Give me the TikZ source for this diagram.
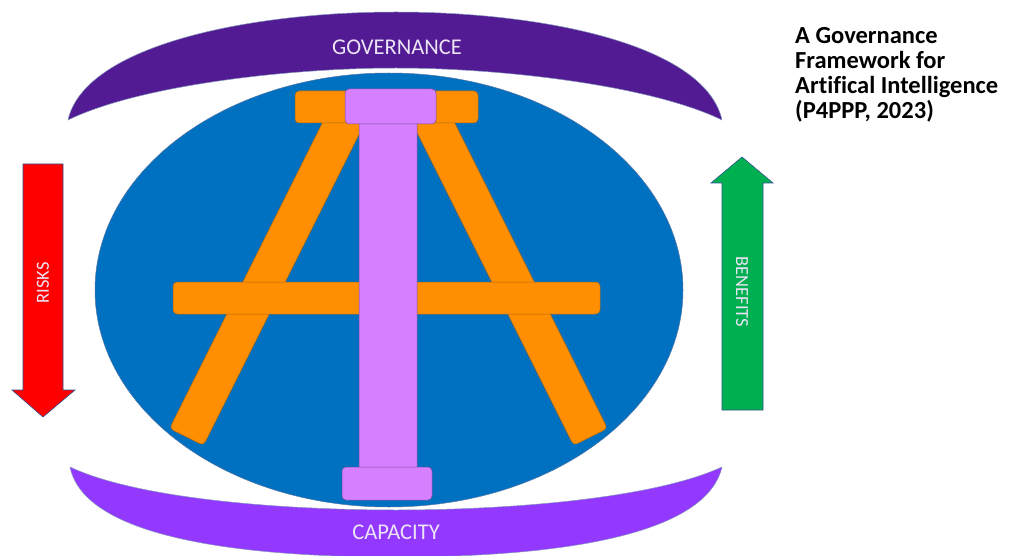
\documentclass[tikz,border=0pt]{standalone}
\usepackage{fontspec}
\setmainfont{Carlito}[Ligatures=NoCommon]
\definecolor{govpurple}{RGB}{82,27,147}
\definecolor{cappurple}{RGB}{146,56,255}
\definecolor{ellblue}{RGB}{0,112,192}
\definecolor{aorange}{RGB}{255,142,0}
\definecolor{apink}{RGB}{214,128,255}
\definecolor{riskred}{RGB}{255,0,0}
\definecolor{bengreen}{RGB}{0,176,80}
\definecolor{edgeblue}{RGB}{47,82,143}
\definecolor{lighttext}{RGB}{236,228,246}
\tikzset{
  crescent/.style={draw=edgeblue!60, line width=0.5pt},
  orangepart/.style={fill=aorange, draw=aorange!70!black!80!gray, line width=0.5pt, rounded corners=4pt},
  pinkpart/.style={fill=apink, draw=apink!60!black, line width=0.5pt, rounded corners=4pt},
  bigarrow/.style={draw=edgeblue, line width=0.6pt},
  banner/.style={text=lighttext, font=\fontsize{22.5}{24}\selectfont, inner sep=0pt},
  arrowtext/.style={text=lighttext, font=\fontsize{18.5}{20}\selectfont, inner sep=0pt},
}
\begin{document}
\begin{tikzpicture}[x=1pt,y=-1pt]
\useasboundingbox (0,0) rectangle (1009,556);
% governance crescent
\fill[govpurple, crescent] (68,120) .. controls (85,45) and (250,12) .. (396,12)
  .. controls (545,12) and (705,45) .. (722,120)
  .. controls (650,85) and (500,68) .. (396,68)
  .. controls (290,68) and (140,85) .. (68,120) -- cycle;
% capacity crescent
\fill[cappurple, crescent] (70,467) .. controls (85,540) and (250,557) .. (396,557)
  .. controls (540,557) and (705,540) .. (722,467)
  .. controls (650,500) and (500,510) .. (396,510)
  .. controls (290,510) and (140,500) .. (70,467) -- cycle;
\node[banner] (gov) at (397,47) {GOVERNANCE};
\node[banner] (cap) at (396,532) {CAPACITY};
% central ellipse
\filldraw[fill=ellblue, draw=edgeblue!80, line width=0.5pt] (389,290) ellipse [x radius=294, y radius=217];
% legs
\filldraw[orangepart] (333,101.5) -- (367,118.5) -- (203.5,445.5) -- (169.5,428.5) -- cycle;
\filldraw[orangepart] (410,118.5) -- (444,101.5) -- (607.5,428.5) -- (573.5,445.5) -- cycle;
% crossbar
\filldraw[orangepart] (173,282) rectangle (600,314);
% top bar
\filldraw[orangepart] (295,91) rectangle (478,123);
% pillar
\filldraw[pinkpart] (359,118) rectangle (417,471);
\filldraw[pinkpart] (345,89) rectangle (436,124);
\filldraw[pinkpart] (342,467) rectangle (432,500);
% risks arrow
\filldraw[fill=riskred, bigarrow] (23,164) -- (63,164) -- (63,390) -- (75,390) -- (43,417) -- (12,390) -- (23,390) -- cycle;
\node[arrowtext, rotate=90] (risks) at (43,283) {RISKS};
% benefits arrow
\filldraw[fill=bengreen, bigarrow] (722,410) -- (763,410) -- (763,183) -- (773,183) -- (742,157) -- (711,183) -- (722,183) -- cycle;
\node[arrowtext, rotate=-90] (benefits) at (742,292) {BENEFITS};
% title
\node[anchor=north west, align=left, inner sep=0pt, font=\bfseries\fontsize{24.5}{25}\selectfont] (title) at (795,27)
  {A Governance\\Framework for\\Artifical Intelligence\\(P4PPP, 2023)};
\end{tikzpicture}
\end{document}
